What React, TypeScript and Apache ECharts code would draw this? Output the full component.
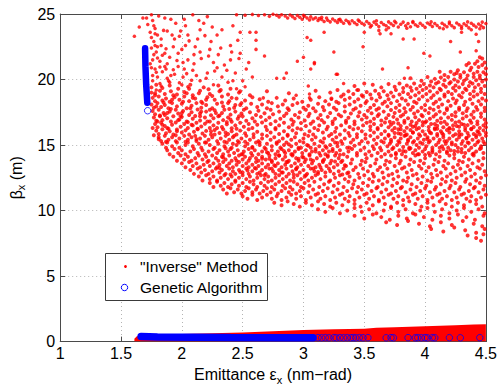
import React, { useEffect, useRef } from "react";
import * as echarts from "echarts";

const FONT = '"Liberation Sans", Arial, Helvetica, sans-serif';

const xTickValues = [1, 1.5, 2, 2.5, 3, 3.5, 4, 4.5];
const yTickValues = [0, 5, 10, 15, 20, 25];
const seriesNames = ['"Inverse" Method', "Genetic Algorithm"];

// "Inverse" method: thin band near the top edge (flat x,y pairs)
const inverseTopBand = [
  2.45,24.95, 2.52,24.9, 2.58,24.97, 2.63,24.88, 2.68,24.95, 2.72,24.82, 2.75,24.98, 2.78,24.9, 2.8,24.78, 2.82,24.95,
  2.85,24.85, 2.87,24.7, 2.89,24.92, 2.91,24.8, 2.93,24.65, 2.95,24.88, 2.97,24.75, 2.99,24.6, 3.01,24.82, 3.03,24.7,
  3.05,24.55, 3.06,24.78, 3.08,24.62, 3.1,24.72, 3.12,24.5, 3.13,24.66, 3.15,24.58, 3.17,24.42, 3.19,24.7, 3.2,24.52,
  3.22,24.4, 3.24,24.62, 3.26,24.48, 3.28,24.35, 3.29,24.56, 3.31,24.44, 3.33,24.3, 3.35,24.52, 3.37,24.4, 3.38,24.25,
  3.4,24.48, 3.42,24.34, 3.44,24.2, 3.46,24.45, 3.48,24.3, 3.5,24.18, 3.52,24.42, 3.54,24.28, 3.56,24.12, 3.58,24.38,
  3.6,24.22, 3.62,24.05, 3.64,24.35, 3.66,24.2, 3.68,24.1, 3.7,24.4, 3.72,24.26, 3.74,24.12, 3.76,24.33, 3.78,24.0,
  3.8,24.22, 3.82,24.38, 3.84,24.1, 3.86,24.28, 3.88,24.02, 3.9,24.35, 3.92,24.18, 3.94,24.06, 3.96,24.3, 3.98,24.14,
  4.0,23.98, 4.02,24.32, 4.04,24.2, 4.06,24.05, 4.08,24.28, 4.1,24.12, 4.12,23.95, 4.14,24.3, 4.16,24.16, 4.18,24.02,
  4.2,24.25, 4.22,24.1, 4.24,23.96, 4.26,24.32, 4.28,24.18, 4.3,24.04, 4.32,24.26, 4.34,24.12, 4.36,23.94, 4.38,24.3,
  4.4,24.15, 4.42,24.0, 4.44,24.24, 4.46,24.1, 4.48,23.96, 4.5,24.28, 3.0,24.9, 3.15,24.75, 3.3,24.6, 3.45,24.55,
  3.6,24.48, 3.75,24.45, 3.9,24.42, 4.05,24.4, 4.2,24.38, 4.35,24.4, 4.47,24.38, 3.55,24.0, 3.7,23.95, 3.85,23.92,
  4.15,23.88, 4.3,23.9, 4.45,23.88, 3.5,23.6, 3.62,23.75, 3.72,23.5, 4.3,23.6, 4.42,23.45, 4.38,23.8, 3.68,23.8,
];

// "Inverse" method: sparse points in the upper part
const inverseSparse = [
  1.61,23.3, 1.65,24.0, 1.68,24.7, 1.71,24.7, 1.72,24.2, 1.75,24.95, 1.76,24.5, 1.78,23.9, 1.74,23.6, 1.8,23.4,
  1.77,22.9, 1.83,22.6, 1.79,22.1, 1.86,22.0, 1.76,21.5, 1.82,21.4, 1.88,21.2, 1.78,20.8, 1.84,20.6, 1.8,20.2,
  1.88,20.1, 1.94,23.1, 1.99,23.7, 2.03,22.6, 2.09,24.95, 2.13,23.1, 2.18,24.3, 2.21,24.8, 2.15,22.1, 2.22,21.8,
  2.24,22.9, 2.05,21.5, 1.97,21.0, 2.09,20.7, 2.29,20.9, 2.4,21.5, 2.46,23.0, 2.48,23.6, 2.56,23.6, 1.97,22.0,
  1.91,24.6, 2.02,24.6, 1.9,19.8, 2.01,20.2, 2.15,19.9, 2.21,20.5, 2.33,20.2, 2.42,19.9, 2.53,20.8, 2.48,22.0,
  1.78,23.5, 1.86,24.7, 1.88,23.7, 1.83,23.1, 1.93,22.5, 2.05,23.4, 2.1,21.9, 1.8,21.65, 1.87,20.8, 1.94,20.4,
  2.1,21.2, 2.26,21.3, 2.32,22.4, 2.15,23.8, 2.29,23.4, 2.4,22.6, 2.42,24.1, 1.82,19.7, 2.05,19.45, 2.26,19.6,
  2.45,19.3, 2.52,19.45, 2.37,20.7, 2.02,20.8, 1.75,20.9, 1.76,19.9, 1.77,21.9, 1.75,22.4, 1.79,19.2,
  1.74,21.2, 1.75,23.2, 1.77,24.1, 1.79,20.55, 1.8,22.5, 1.81,24.85, 1.82,20.95, 1.84,21.85, 1.85,23.75, 1.87,22.35,
  1.89,19.9, 1.9,21.7, 1.92,23.4, 1.93,20.75, 1.95,24.3, 1.96,21.45, 1.98,19.75, 2.0,22.3, 2.01,21.3, 2.03,24.1,
  2.04,20.45, 2.06,22.95, 2.08,19.95, 2.11,22.5, 2.12,20.3, 2.14,24.5, 2.16,21.6, 2.19,23.35, 2.2,20.1, 2.23,22.3,
  2.25,24.0, 2.27,20.65, 2.3,21.9, 2.33,23.8, 2.35,21.1, 2.38,19.8, 2.41,22.1, 2.44,20.5, 2.47,21.6, 2.5,19.9,
  2.55,21.3, 2.58,20.2, 1.76,20.3, 1.78,22.6, 1.83,19.5, 1.86,21.0, 1.91,20.3, 2.0,19.6, 1.98,23.3,
  2.61,23.0, 2.61,22.3, 2.68,21.8, 2.95,21.4, 3.0,21.7, 3.03,23.2, 3.06,23.0, 3.09,21.2, 3.06,20.8, 3.25,22.1,
  3.17,23.6, 3.27,20.4, 3.33,19.7, 3.49,22.5, 3.65,20.8, 3.86,20.9, 3.83,20.1, 3.99,22.0, 4.04,21.8, 4.21,22.9,
  4.29,22.1, 4.42,22.2, 4.44,22.9, 3.82,23.1, 3.91,23.1, 3.63,23.5, 2.86,20.5, 2.84,20.1, 2.78,20.1, 2.94,18.8,
  3.05,18.6, 3.09,21.3, 3.04,19.5, 3.05,18.9, 3.44,19.2, 2.67,18.6, 3.23,18.5, 2.61,23.6, 3.28,20.4,
];

// "Inverse" method: main cloud, upper rows (beta 16 .. 21.5)
const inverseCloudUpper = [
  4.43,21.4, 4.47,21.6, 4.49,21.3, 4.45,21.7,
  4.34,21.1, 4.38,20.9, 4.41,21.2, 4.44,20.95, 4.47,21.1, 4.5,20.85, 4.36,21.25,
  4.12,20.6, 4.16,20.35, 4.21,20.6, 4.24,20.4, 4.26,20.5, 4.27,20.7, 4.29,20.35, 4.32,20.55, 4.35,20.3, 4.37,20.7,
  4.4,20.45, 4.43,20.6, 4.45,20.3, 4.48,20.55, 4.5,20.4,
  3.88,20.1, 3.97,19.9, 4.02,20.2, 4.05,19.85, 4.08,20.05, 4.11,19.8, 4.13,20.15, 4.16,19.95, 4.19,20.2, 4.21,19.8,
  4.24,20.0, 4.27,19.85, 4.29,20.15, 4.32,19.9, 4.34,20.05, 4.37,19.8, 4.4,20.2, 4.42,19.95, 4.45,20.1, 4.47,19.85, 4.5,20.0,
  3.42,19.5, 3.5,19.7, 3.57,19.6, 3.64,19.4, 3.7,19.65, 3.75,19.45, 3.79,19.7, 3.82,19.35, 3.85,19.55, 3.88,19.4,
  3.91,19.7, 3.93,19.3, 3.96,19.5, 3.99,19.65, 4.01,19.35, 4.04,19.55, 4.07,19.4, 4.09,19.7, 4.12,19.3, 4.15,19.6,
  4.17,19.45, 4.2,19.7, 4.23,19.35, 4.25,19.55, 4.28,19.4, 4.31,19.65, 4.33,19.3, 4.36,19.5, 4.39,19.7, 4.41,19.4,
  4.44,19.6, 4.46,19.3, 4.49,19.5,
  1.75,19.4, 1.79,19.6, 1.84,19.35, 1.9,19.55, 1.97,19.3, 2.07,19.6, 2.18,19.4, 2.3,19.55, 2.4,19.3,
  1.75,19.0, 1.78,18.8, 1.82,19.15, 1.86,18.9, 1.91,19.1, 1.96,18.85, 2.02,19.05, 2.09,18.8, 2.15,19.15, 2.23,18.9,
  2.31,19.1, 2.38,18.85, 2.47,19.0, 2.56,18.8,
  2.7,19.1, 2.88,18.95, 3.1,19.15, 3.22,19.0, 3.28,19.2, 3.33,18.85, 3.37,19.1, 3.41,18.9, 3.45,19.2, 3.48,18.8,
  3.52,19.05, 3.55,18.85, 3.59,19.15, 3.62,18.9, 3.66,19.1, 3.69,18.8, 3.72,19.0, 3.76,19.2, 3.79,18.85, 3.82,19.05,
  3.86,18.9, 3.89,19.15, 3.92,18.8, 3.95,19.0, 3.98,19.2, 4.01,18.9, 4.04,19.1, 4.07,18.8, 4.1,19.0, 4.13,19.2,
  4.16,18.85, 4.19,19.05, 4.22,18.9, 4.25,19.15, 4.28,18.8, 4.31,19.0, 4.34,19.2, 4.37,18.9, 4.4,19.1, 4.43,18.85,
  4.46,19.05, 4.49,18.9,
  1.76,18.6, 1.78,18.35, 1.81,18.7, 1.84,18.4, 1.87,18.55, 1.9,18.3, 1.94,18.65, 1.98,18.45, 2.02,18.7, 2.06,18.35,
  2.11,18.55, 2.16,18.3, 2.21,18.65, 2.27,18.45, 2.33,18.7, 2.39,18.35, 2.45,18.55, 2.52,18.4, 2.58,18.65,
  2.64,18.5, 2.71,18.3, 2.78,18.6, 2.85,18.4, 2.92,18.55, 2.99,18.3, 3.06,18.45, 3.13,18.65, 3.18,18.35,
  3.23,18.55, 3.27,18.3, 3.31,18.7, 3.34,18.45, 3.38,18.6, 3.42,18.3, 3.45,18.5, 3.49,18.7, 3.52,18.35, 3.56,18.55,
  3.6,18.4, 3.63,18.65, 3.67,18.3, 3.7,18.5, 3.74,18.7, 3.77,18.35, 3.81,18.55, 3.84,18.4, 3.88,18.65, 3.91,18.3,
  3.95,18.5, 3.98,18.7, 4.02,18.4, 4.05,18.6, 4.09,18.3, 4.12,18.5, 4.16,18.7, 4.19,18.35, 4.23,18.55, 4.26,18.4,
  4.3,18.65, 4.33,18.3, 4.37,18.5, 4.4,18.7, 4.44,18.35, 4.47,18.55, 4.5,18.4,
  1.75,18.1, 1.77,17.85, 1.8,18.2, 1.83,17.9, 1.86,18.05, 1.89,17.8, 1.92,18.2, 1.96,17.95, 2.0,18.15, 2.04,17.8,
  2.08,18.0, 2.12,18.2, 2.16,17.85, 2.2,18.05, 2.25,17.8, 2.29,18.15, 2.34,17.95, 2.38,18.2, 2.43,17.85, 2.48,18.05,
  2.53,17.8, 2.57,18.15, 2.62,17.9, 2.66,18.1, 2.7,17.8, 2.74,18.2, 2.79,17.95, 2.83,18.1, 2.87,17.8, 2.91,18.05,
  2.95,18.2, 3.0,17.85, 3.04,18.0, 3.08,17.8, 3.12,18.15, 3.16,17.9, 3.21,18.1, 3.25,17.85, 3.29,18.2, 3.34,17.95,
  3.38,18.1, 3.43,17.8, 3.47,18.0, 3.51,18.2, 3.55,17.85, 3.58,18.05, 3.62,17.8, 3.65,18.15, 3.69,17.95, 3.72,18.2,
  3.76,17.85, 3.79,18.05, 3.83,17.8, 3.86,18.1, 3.9,17.9, 3.93,18.2, 3.97,17.85, 4.0,18.05, 4.04,17.8, 4.07,18.15,
  4.11,17.9, 4.14,18.1, 4.18,17.8, 4.21,18.0, 4.25,18.2, 4.28,17.85, 4.32,18.05, 4.35,17.8, 4.39,18.15, 4.42,17.9,
  4.46,18.1, 4.49,17.85,
  1.76,17.6, 1.78,17.35, 1.81,17.7, 1.85,17.45, 1.86,17.3, 1.9,17.55, 1.95,17.7, 1.97,17.4, 2.01,17.6, 2.06,17.3,
  2.08,17.5, 2.13,17.72, 2.15,17.4, 2.2,17.55, 2.24,17.28, 2.27,17.65, 2.33,17.45, 2.35,17.7, 2.4,17.32, 2.44,17.55,
  2.49,17.4, 2.51,17.7, 2.56,17.5, 2.61,17.3, 2.63,17.62, 2.68,17.42, 2.73,17.7, 2.75,17.35, 2.8,17.55, 2.86,17.4,
  2.88,17.68, 2.93,17.3, 2.97,17.5, 3.02,17.7, 3.05,17.38, 3.1,17.58, 3.14,17.3, 3.17,17.65, 3.22,17.45, 3.27,17.7,
  3.29,17.32, 3.34,17.55, 3.39,17.4, 3.41,17.7, 3.46,17.5, 3.5,17.3, 3.53,17.62, 3.56,17.42, 3.6,17.7, 3.62,17.35,
  3.66,17.55, 3.7,17.3, 3.72,17.68, 3.75,17.45, 3.79,17.6, 3.82,17.32, 3.84,17.52, 3.88,17.7, 3.91,17.4, 3.94,17.58,
  3.97,17.3, 4.0,17.65, 4.03,17.45, 4.07,17.7, 4.09,17.35, 4.12,17.55, 4.16,17.4, 4.18,17.68, 4.22,17.3, 4.25,17.5,
  4.28,17.7, 4.31,17.42, 4.34,17.6, 4.38,17.32, 4.4,17.55, 4.43,17.7, 4.46,17.4, 4.49,17.6,
  1.77,17.1, 1.79,16.85, 1.82,17.2, 1.84,16.9, 1.88,17.05, 1.91,16.8, 1.93,17.2, 1.98,16.95, 2.0,17.15, 2.04,16.8,
  2.09,17.0, 2.11,17.22, 2.15,16.88, 2.19,17.1, 2.23,16.8, 2.26,17.05, 2.3,17.2, 2.34,16.9, 2.38,17.1, 2.41,16.78,
  2.46,17.0, 2.5,17.2, 2.53,16.85, 2.58,17.05, 2.6,16.8, 2.65,17.15, 2.69,16.9, 2.72,17.1, 2.77,16.82, 2.81,17.0,
  2.84,17.22, 2.9,16.95, 2.92,16.78, 2.96,17.1, 3.01,16.88, 3.04,17.2, 3.08,16.8, 3.12,17.05, 3.15,16.9, 3.2,17.15,
  3.24,16.8, 3.26,17.0, 3.31,17.2, 3.35,16.85, 3.37,17.08, 3.42,16.8, 3.45,17.2, 3.48,16.95, 3.52,17.1, 3.55,16.8,
  3.58,17.0, 3.61,17.22, 3.64,16.88, 3.68,17.05, 3.71,16.78, 3.74,17.15, 3.77,16.95, 3.8,17.2, 3.83,16.85, 3.86,17.05,
  3.89,16.8, 3.92,17.12, 3.95,16.9, 3.98,17.2, 4.01,16.82, 4.04,17.0, 4.07,17.18, 4.1,16.85, 4.13,17.05, 4.16,16.78,
  4.19,17.1, 4.22,16.92, 4.25,17.2, 4.28,16.8, 4.31,17.02, 4.34,17.2, 4.37,16.88, 4.4,17.08, 4.43,16.8, 4.46,17.15, 4.49,16.95,
  1.78,16.6, 1.8,16.35, 1.83,16.7, 1.86,16.45, 1.88,16.3, 1.92,16.55, 1.95,16.72, 1.99,16.4, 2.02,16.6, 2.05,16.3,
  2.09,16.5, 2.12,16.7, 2.16,16.42, 2.19,16.62, 2.23,16.3, 2.26,16.5, 2.3,16.7, 2.33,16.38, 2.37,16.58, 2.41,16.28,
  2.44,16.5, 2.48,16.7, 2.51,16.4, 2.55,16.6, 2.58,16.3, 2.62,16.55, 2.66,16.72, 2.69,16.4, 2.73,16.6, 2.77,16.3,
  2.8,16.5, 2.84,16.7, 2.88,16.35, 2.91,16.55, 2.95,16.28, 2.98,16.68, 3.02,16.45, 3.06,16.62, 3.09,16.3, 3.13,16.5,
  3.17,16.72, 3.2,16.4, 3.24,16.6, 3.27,16.3, 3.31,16.5, 3.35,16.7, 3.38,16.38, 3.42,16.58, 3.45,16.28, 3.49,16.5,
  3.52,16.7, 3.55,16.42, 3.58,16.6, 3.61,16.3, 3.64,16.52, 3.67,16.72, 3.7,16.35, 3.72,16.55, 3.75,16.3, 3.78,16.65,
  3.8,16.45, 3.83,16.7, 3.85,16.32, 3.88,16.55, 3.9,16.4, 3.93,16.68, 3.95,16.3, 3.98,16.5, 4.0,16.72, 4.03,16.38,
  4.05,16.6, 4.08,16.28, 4.1,16.48, 4.13,16.7, 4.15,16.35, 4.18,16.58, 4.2,16.3, 4.23,16.5, 4.25,16.72, 4.28,16.4,
  4.3,16.6, 4.33,16.3, 4.35,16.52, 4.38,16.7, 4.4,16.38, 4.43,16.58, 4.45,16.3, 4.48,16.5, 4.5,16.68,
  1.79,16.1, 1.81,15.85, 1.84,16.2, 1.87,15.9, 1.9,16.05, 1.93,15.8, 1.96,16.18, 2.0,15.95, 2.03,16.12, 2.06,15.8,
  2.1,16.02, 2.13,16.2, 2.17,15.88, 2.2,16.08, 2.24,15.8, 2.27,16.15, 2.31,15.92, 2.34,16.2, 2.38,15.85, 2.41,16.05,
  2.45,15.8, 2.48,16.1, 2.52,15.9, 2.55,16.2, 2.59,15.82, 2.62,16.02, 2.66,15.8, 2.7,16.15, 2.73,15.95, 2.77,16.2,
  2.8,15.85, 2.84,16.05, 2.87,15.78, 2.91,16.12, 2.94,15.9, 2.98,16.2, 3.01,15.82, 3.05,16.05, 3.08,15.8, 3.12,16.15,
  3.16,15.95, 3.19,16.2, 3.23,15.85, 3.26,16.02, 3.3,15.8, 3.34,16.12, 3.37,15.92, 3.41,16.2, 3.44,15.82, 3.48,16.05,
  3.51,15.8, 3.55,16.15, 3.58,15.95, 3.61,16.2, 3.64,15.85, 3.67,16.05, 3.7,15.78, 3.73,16.12, 3.75,15.92, 3.78,16.2,
  3.8,15.85, 3.83,16.05, 3.85,15.8, 3.88,16.15, 3.9,15.95, 3.93,16.2, 3.95,15.82, 3.98,16.05, 4.0,15.8, 4.03,16.12,
  4.05,15.9, 4.08,16.2, 4.1,15.85, 4.13,16.05, 4.15,15.78, 4.18,16.15, 4.2,15.95, 4.23,16.2, 4.25,15.82, 4.28,16.05,
  4.3,15.8, 4.33,16.12, 4.35,15.92, 4.38,16.2, 4.4,15.85, 4.43,16.05, 4.45,15.8, 4.48,16.12, 4.5,15.92,
];

// "Inverse" method: extra points on the left arm of the cloud
const inverseCloudLeftArm = [
  1.77,15.75, 1.8,16.8, 1.82,17.25, 1.85,18.25, 1.87,15.25, 1.89,16.25, 1.91,17.75, 1.93,18.8, 1.95,15.75, 1.97,16.9,
  1.99,17.2, 2.01,18.3, 2.03,15.25, 2.05,16.75, 2.07,17.8, 2.09,18.6, 2.11,15.7, 2.13,16.25, 2.15,17.2, 2.17,18.2,
  2.19,15.2, 2.21,16.8, 2.23,17.7, 2.25,18.75, 2.27,15.8, 2.29,16.3, 2.31,17.25, 2.33,18.25, 2.35,15.25, 2.37,16.75,
  2.39,17.75, 2.41,18.6, 2.43,15.7, 2.45,16.25, 2.47,17.2, 2.49,18.2, 1.78,18.95, 1.81,15.45, 1.84,16.55, 1.88,17.45,
  1.92,18.45, 1.96,16.05, 2.0,17.45, 2.04,18.95, 2.08,16.55, 2.12,15.45, 2.16,17.55, 2.2,18.45, 2.24,16.05, 2.28,17.45,
  2.32,19.2, 2.36,15.95, 2.4,16.95, 2.44,18.05, 2.48,19.1, 1.76,16.3, 1.79,17.95, 2.06,19.3, 2.14,18.95, 2.22,19.25,
];

// "Inverse" method: main cloud, middle rows (beta 12.8 .. 15.7)
const inverseCloudMiddle = [
  1.81,15.6, 1.83,15.3, 1.86,15.7, 1.89,15.4, 1.92,15.6, 1.95,15.3, 1.98,15.5, 2.02,15.7, 2.05,15.4, 2.08,15.6,
  2.12,15.3, 2.15,15.5, 2.19,15.7, 2.22,15.4, 2.25,15.6, 2.29,15.3, 2.32,15.5, 2.36,15.7, 2.39,15.4, 2.42,15.6,
  2.46,15.3, 2.49,15.5, 2.53,15.7, 2.56,15.4, 2.59,15.6, 2.63,15.3, 2.66,15.5, 2.7,15.7, 2.73,15.4, 2.76,15.6,
  2.8,15.3, 2.83,15.5, 2.87,15.7, 2.9,15.4, 2.93,15.6, 2.97,15.3, 3.0,15.5, 3.04,15.7, 3.07,15.4, 3.1,15.6,
  3.14,15.3, 3.17,15.5, 3.21,15.7, 3.24,15.4, 3.27,15.6, 3.31,15.3, 3.34,15.5, 3.38,15.7, 3.41,15.4, 3.44,15.6,
  3.48,15.3, 3.51,15.5, 3.55,15.7, 3.58,15.4, 3.61,15.6, 3.64,15.3, 3.67,15.5, 3.7,15.7, 3.72,15.4, 3.75,15.6,
  3.78,15.3, 3.8,15.5, 3.83,15.7, 3.86,15.4, 3.88,15.6, 3.91,15.3, 3.94,15.5, 3.96,15.7, 3.99,15.4, 4.02,15.6,
  4.04,15.3, 4.07,15.5, 4.1,15.7, 4.12,15.4, 4.15,15.6, 4.18,15.3, 4.2,15.5, 4.23,15.7, 4.26,15.4, 4.28,15.6,
  4.31,15.3, 4.34,15.5, 4.36,15.7, 4.39,15.4, 4.42,15.6, 4.44,15.3, 4.47,15.5, 4.5,15.7,
  1.84,15.1, 1.87,14.8, 1.88,15.2, 1.92,14.9, 1.96,15.2, 1.98,14.8, 2.03,15.0, 2.05,15.2, 2.09,14.9, 2.14,15.1,
  2.16,14.8, 2.2,15.2, 2.23,15.0, 2.27,14.8, 2.3,15.1, 2.35,14.9, 2.37,15.2, 2.41,14.8, 2.45,15.0, 2.47,15.2,
  2.52,14.9, 2.54,15.1, 2.58,14.8, 2.61,15.2, 2.64,15.0, 2.68,14.8, 2.7,15.1, 2.74,14.9, 2.78,15.2, 2.81,14.8,
  2.84,15.0, 2.86,15.2, 2.9,14.9, 2.94,15.1, 2.96,14.8, 3.0,15.2, 3.03,15.0, 3.06,14.8, 3.09,15.1, 3.13,14.9,
  3.16,15.2, 3.19,14.8, 3.22,15.0, 3.26,15.2, 3.28,14.9, 3.32,15.1, 3.36,14.8, 3.39,15.2, 3.42,14.95, 3.46,15.1,
  3.5,14.8, 3.53,15.2, 3.57,14.9, 3.6,15.1, 3.63,14.8, 3.66,15.2, 3.69,14.9, 3.71,15.1, 3.74,14.8, 3.77,15.0,
  3.79,15.2, 3.82,14.85, 3.85,15.1, 3.87,14.8, 3.9,15.2, 3.93,15.0, 3.95,14.8, 3.98,15.1, 4.01,14.9, 4.03,15.2,
  4.06,14.8, 4.09,15.0, 4.11,15.2, 4.14,14.9, 4.17,15.1, 4.19,14.8, 4.22,15.2, 4.25,15.0, 4.27,14.8, 4.3,15.1,
  4.33,14.9, 4.35,15.2, 4.38,14.8, 4.41,15.0, 4.43,15.2, 4.46,14.9, 4.49,15.1,
  1.88,14.6, 1.9,14.3, 1.94,14.7, 1.97,14.4, 2.0,14.6, 2.03,14.3, 2.07,14.5, 2.1,14.7, 2.13,14.4, 2.17,14.6,
  2.19,14.3, 2.22,14.5, 2.26,14.7, 2.29,14.4, 2.31,14.6, 2.34,14.3, 2.38,14.5, 2.4,14.7, 2.43,14.4, 2.46,14.6,
  2.49,14.3, 2.51,14.5, 2.55,14.7, 2.57,14.4, 2.6,14.6, 2.63,14.3, 2.66,14.5, 2.69,14.7, 2.71,14.4, 2.74,14.6,
  2.77,14.3, 2.79,14.5, 2.82,14.7, 2.85,14.4, 2.88,14.6, 2.91,14.3, 2.93,14.5, 2.96,14.7, 2.99,14.4, 3.02,14.6,
  3.05,14.3, 3.07,14.5, 3.1,14.7, 3.13,14.4, 3.16,14.6, 3.18,14.3, 3.21,14.5, 3.24,14.7, 3.27,14.4, 3.3,14.6,
  3.33,14.3, 3.37,14.5, 3.4,14.7, 3.44,14.4, 3.47,14.6, 3.51,14.3, 3.54,14.5, 3.58,14.7, 3.61,14.4, 3.64,14.6,
  3.67,14.3, 3.7,14.5, 3.73,14.7, 3.76,14.4, 3.79,14.6, 3.81,14.3, 3.84,14.5, 3.87,14.7, 3.9,14.4, 3.92,14.6,
  3.95,14.3, 3.98,14.5, 4.0,14.7, 4.03,14.4, 4.06,14.6, 4.09,14.3, 4.12,14.5, 4.15,14.7, 4.18,14.4, 4.21,14.6,
  4.24,14.3, 4.27,14.5, 4.3,14.7, 4.33,14.4, 4.36,14.6, 4.39,14.3, 4.42,14.5, 4.45,14.7, 4.48,14.4,
  1.93,14.1, 1.96,13.8, 1.99,14.2, 2.02,13.9, 2.05,14.1, 2.08,13.8, 2.11,14.0, 2.14,14.2, 2.17,13.9, 2.2,14.1,
  2.22,13.8, 2.25,14.2, 2.28,14.0, 2.3,13.8, 2.33,14.1, 2.36,13.9, 2.39,14.2, 2.41,13.8, 2.44,14.0, 2.47,14.2,
  2.5,13.9, 2.52,14.1, 2.55,13.8, 2.58,14.2, 2.61,14.0, 2.63,13.8, 2.66,14.1, 2.69,13.9, 2.72,14.2, 2.74,13.8,
  2.77,14.0, 2.8,14.2, 2.83,13.9, 2.85,14.1, 2.88,13.8, 2.91,14.2, 2.94,14.0, 2.96,13.8, 2.99,14.1, 3.02,13.9,
  3.05,14.2, 3.08,13.8, 3.11,14.0, 3.14,14.2, 3.17,13.9, 3.2,14.1, 3.23,13.8, 3.26,14.2, 3.29,14.0, 3.32,13.8,
  3.36,14.1, 3.4,13.9, 3.44,14.2, 3.48,13.8, 3.52,14.0, 3.56,14.2, 3.6,13.9, 3.64,14.1, 3.68,13.8, 3.72,14.2,
  3.76,14.0, 3.8,13.8, 3.84,14.1, 3.88,13.9, 3.92,14.2, 3.96,13.8, 4.0,14.0, 4.04,14.2, 4.08,13.9, 4.12,14.1,
  4.16,13.8, 4.2,14.2, 4.24,14.0, 4.28,13.8, 4.32,14.1, 4.36,13.9, 4.4,14.2, 4.44,13.8, 4.48,14.0,
  2.0,13.6, 2.03,13.3, 2.06,13.7, 2.09,13.4, 2.12,13.6, 2.15,13.3, 2.18,13.5, 2.21,13.7, 2.23,13.4, 2.26,13.6,
  2.29,13.3, 2.31,13.5, 2.34,13.7, 2.37,13.4, 2.39,13.6, 2.42,13.3, 2.45,13.5, 2.47,13.7, 2.5,13.4, 2.53,13.6,
  2.55,13.3, 2.58,13.5, 2.61,13.7, 2.63,13.4, 2.66,13.6, 2.69,13.3, 2.71,13.5, 2.74,13.7, 2.77,13.4, 2.79,13.6,
  2.82,13.3, 2.85,13.5, 2.87,13.7, 2.9,13.4, 2.93,13.6, 2.95,13.3, 2.98,13.5, 3.01,13.7, 3.04,13.4, 3.07,13.6,
  3.1,13.3, 3.13,13.5, 3.16,13.7, 3.19,13.4, 3.22,13.6, 3.25,13.3, 3.28,13.5, 3.31,13.7, 3.35,13.4, 3.39,13.6,
  3.43,13.3, 3.47,13.5, 3.51,13.7, 3.55,13.4, 3.59,13.6, 3.63,13.3, 3.67,13.5, 3.71,13.7, 3.75,13.4, 3.79,13.6,
  3.83,13.3, 3.87,13.5, 3.91,13.7, 3.95,13.4, 3.99,13.6, 4.03,13.3, 4.07,13.5, 4.11,13.7, 4.15,13.4, 4.19,13.6,
  4.23,13.3, 4.27,13.5, 4.31,13.7, 4.35,13.4, 4.39,13.6, 4.43,13.3, 4.47,13.5,
  2.07,13.1, 2.1,12.8, 2.13,13.2, 2.16,12.9, 2.19,13.1, 2.22,12.8, 2.25,13.0, 2.28,13.2, 2.31,12.9, 2.33,13.1,
  2.36,12.8, 2.39,13.2, 2.42,13.0, 2.44,12.8, 2.47,13.1, 2.5,12.9, 2.53,13.2, 2.55,12.8, 2.58,13.0, 2.61,13.2,
  2.64,12.9, 2.66,13.1, 2.69,12.8, 2.72,13.2, 2.75,13.0, 2.77,12.8, 2.8,13.1, 2.83,12.9, 2.86,13.2, 2.88,12.8,
  2.91,13.0, 2.94,13.2, 2.97,12.9, 3.0,13.1, 3.03,12.8, 3.06,13.2, 3.09,13.0, 3.12,12.8, 3.15,13.1, 3.18,12.9,
  3.21,13.2, 3.25,12.8, 3.29,13.0, 3.33,13.2, 3.37,12.9, 3.41,13.1, 3.45,12.8, 3.49,13.2, 3.53,13.0, 3.57,12.8,
  3.61,13.1, 3.65,12.9, 3.69,13.2, 3.73,12.8, 3.77,13.0, 3.81,13.2, 3.85,12.9, 3.89,13.1, 3.93,12.8, 3.97,13.2,
  4.01,13.0, 4.05,12.8, 4.09,13.1, 4.13,12.9, 4.17,13.2, 4.21,12.8, 4.25,13.0, 4.29,13.2, 4.33,12.9, 4.37,13.1,
  4.41,12.8, 4.45,13.2, 4.49,13.0,
];

// "Inverse" method: extra points in the densest parts of the cloud
const inverseCloudCore = [
  2.31,13.25, 2.36,14.75, 2.4,12.75, 2.45,13.8, 2.5,14.3, 2.54,13.05, 2.58,14.85, 2.62,12.8, 2.66,13.95, 2.7,14.45,
  2.74,13.2, 2.78,15.1, 2.82,12.9, 2.86,13.7, 2.9,14.3, 2.94,13.15, 2.98,14.8, 3.02,12.7, 3.06,13.9, 3.1,14.5,
  3.14,13.3, 3.18,14.9, 3.22,13.0, 3.26,13.75, 3.3,14.25, 3.34,13.45, 3.38,14.8, 2.34,14.05, 2.42,15.1, 2.48,12.95,
  2.56,14.0, 2.64,15.2, 2.72,13.95, 2.8,14.2, 2.88,15.05, 2.96,13.95, 3.04,14.95, 3.12,12.95, 3.2,14.2, 3.28,15.15,
  3.36,12.85, 2.52,15.25, 2.6,13.25, 2.68,12.7, 2.76,13.45, 2.84,14.55, 2.92,12.75, 3.0,14.05, 3.08,13.2, 3.16,13.8,
  3.24,14.55, 3.32,12.75,
  3.72,15.25, 3.76,14.3, 3.8,16.2, 3.84,15.75, 3.88,14.75, 3.92,16.45, 3.96,15.2, 4.0,14.25, 4.04,15.95, 4.08,16.6,
  4.12,14.8, 4.16,15.3, 4.2,16.25, 4.24,14.55, 4.28,15.8, 4.32,16.55, 4.36,15.15, 4.4,14.35, 4.44,16.0, 4.48,15.25,
  3.74,16.7, 3.82,14.55, 3.9,15.95, 3.98,16.75, 4.06,14.45, 4.14,15.9, 4.22,15.05, 4.3,14.45, 4.38,16.25, 4.46,14.75,
  3.86,15.3, 3.94,14.3, 4.02,15.45, 4.1,16.25, 4.18,14.5, 4.26,16.45, 4.34,15.55, 4.42,15.75, 4.5,16.35, 3.78,15.9,
];

// "Inverse" method: main cloud, lower rows (beta 7.7 .. 12.7)
const inverseCloudLower = [
  2.14,12.6, 2.17,12.3, 2.2,12.7, 2.23,12.4, 2.26,12.6, 2.29,12.3, 2.32,12.5, 2.35,12.7, 2.38,12.4, 2.41,12.6,
  2.44,12.3, 2.47,12.5, 2.5,12.7, 2.53,12.4, 2.56,12.6, 2.59,12.3, 2.62,12.5, 2.65,12.7, 2.68,12.4, 2.71,12.6,
  2.74,12.3, 2.77,12.5, 2.8,12.7, 2.83,12.4, 2.86,12.6, 2.89,12.3, 2.92,12.5, 2.95,12.7, 2.98,12.4, 3.01,12.6,
  3.04,12.3, 3.07,12.5, 3.1,12.7, 3.14,12.4, 3.18,12.6, 3.22,12.3, 3.26,12.5, 3.3,12.7, 3.34,12.4, 3.38,12.6,
  3.42,12.3, 3.46,12.5, 3.5,12.7, 3.54,12.4, 3.58,12.6, 3.62,12.3, 3.66,12.5, 3.7,12.7, 3.74,12.4, 3.78,12.6,
  3.82,12.3, 3.86,12.5, 3.9,12.7, 3.94,12.4, 3.98,12.6, 4.02,12.3, 4.06,12.5, 4.1,12.7, 4.14,12.4, 4.18,12.6,
  4.22,12.3, 4.26,12.5, 4.3,12.7, 4.34,12.4, 4.38,12.6, 4.42,12.3, 4.46,12.5, 4.5,12.7,
  2.23,12.1, 2.26,11.8, 2.29,12.2, 2.32,11.9, 2.35,12.1, 2.38,11.8, 2.41,12.0, 2.44,12.2, 2.47,11.9, 2.5,12.1,
  2.53,11.8, 2.56,12.2, 2.59,12.0, 2.62,11.8, 2.65,12.1, 2.68,11.9, 2.71,12.2, 2.74,11.8, 2.77,12.0, 2.8,12.2,
  2.83,11.9, 2.86,12.1, 2.89,11.8, 2.92,12.2, 2.95,12.0, 2.98,11.8, 3.01,12.1, 3.05,11.9, 3.09,12.2, 3.13,11.8,
  3.17,12.0, 3.21,12.2, 3.25,11.9, 3.29,12.1, 3.33,11.8, 3.37,12.2, 3.41,12.0, 3.45,11.8, 3.49,12.1, 3.53,11.9,
  3.57,12.2, 3.61,11.8, 3.65,12.0, 3.69,12.2, 3.73,11.9, 3.77,12.1, 3.81,11.8, 3.85,12.2, 3.89,12.0, 3.93,11.8,
  3.97,12.1, 4.01,11.9, 4.05,12.2, 4.09,11.8, 4.13,12.0, 4.17,12.2, 4.21,11.9, 4.25,12.1, 4.29,11.8, 4.33,12.2,
  4.37,12.0, 4.41,11.8, 4.45,12.1, 4.49,11.9,
  2.34,11.6, 2.37,11.3, 2.4,11.7, 2.43,11.4, 2.46,11.6, 2.49,11.3, 2.52,11.5, 2.55,11.7, 2.58,11.4, 2.61,11.6,
  2.64,11.3, 2.67,11.5, 2.7,11.7, 2.73,11.4, 2.76,11.6, 2.79,11.3, 2.82,11.5, 2.85,11.7, 2.88,11.4, 2.91,11.6,
  2.94,11.3, 2.97,11.5, 3.0,11.7, 3.04,11.4, 3.08,11.6, 3.12,11.3, 3.16,11.5, 3.2,11.7, 3.24,11.4, 3.28,11.6,
  3.32,11.3, 3.36,11.5, 3.4,11.7, 3.44,11.4, 3.48,11.6, 3.52,11.3, 3.56,11.5, 3.6,11.7, 3.64,11.4, 3.68,11.6,
  3.72,11.3, 3.76,11.5, 3.8,11.7, 3.84,11.4, 3.88,11.6, 3.92,11.3, 3.96,11.5, 4.0,11.7, 4.04,11.4, 4.08,11.6,
  4.12,11.3, 4.16,11.5, 4.2,11.7, 4.24,11.4, 4.28,11.6, 4.32,11.3, 4.36,11.5, 4.4,11.7, 4.44,11.4, 4.48,11.6,
  2.5,11.1, 2.54,10.9, 2.58,11.2, 2.62,10.8, 2.66,11.0, 2.7,11.2, 2.74,10.9, 2.78,11.1, 2.82,10.8, 2.86,11.0,
  2.9,11.2, 2.94,10.9, 2.98,11.1, 3.02,10.8, 3.06,11.0, 3.1,11.2, 3.14,10.9, 3.18,11.1, 3.22,10.8, 3.26,11.0,
  3.3,11.2, 3.34,10.9, 3.38,11.1, 3.42,10.8, 3.46,11.0, 3.5,11.2, 3.54,10.9, 3.58,11.1, 3.62,10.8, 3.66,11.0,
  3.7,11.2, 3.74,10.9, 3.78,11.1, 3.82,10.8, 3.86,11.0, 3.9,11.2, 3.94,10.9, 3.98,11.1, 4.02,10.8, 4.06,11.0,
  4.1,11.2, 4.14,10.9, 4.18,11.1, 4.22,10.8, 4.26,11.0, 4.3,11.2, 4.34,10.9, 4.38,11.1, 4.42,10.8, 4.46,11.0, 4.5,11.2,
  2.76,10.6, 2.82,10.4, 2.87,10.7, 2.92,10.5, 2.97,10.3, 3.02,10.6, 3.07,10.4, 3.12,10.7, 3.17,10.5, 3.22,10.3,
  3.27,10.6, 3.32,10.4, 3.37,10.7, 3.42,10.5, 3.47,10.3, 3.52,10.6, 3.57,10.4, 3.62,10.7, 3.67,10.5, 3.72,10.3,
  3.77,10.6, 3.82,10.4, 3.87,10.7, 3.92,10.5, 3.97,10.3, 4.02,10.6, 4.07,10.4, 4.12,10.7, 4.17,10.5, 4.22,10.3,
  4.27,10.6, 4.32,10.4, 4.37,10.7, 4.42,10.5, 4.47,10.3,
  3.12,10.1, 3.18,9.9, 3.24,10.2, 3.3,9.8, 3.36,10.0, 3.42,10.2, 3.48,9.9, 3.54,10.1, 3.6,9.8, 3.66,10.0,
  3.72,10.2, 3.78,9.9, 3.84,10.1, 3.9,9.8, 3.96,10.0, 4.02,10.2, 4.08,9.9, 4.14,10.1, 4.2,9.8, 4.26,10.0,
  4.32,10.2, 4.38,9.9, 4.44,10.1, 4.49,9.8,
  3.42,9.6, 3.5,9.4, 3.57,9.7, 3.64,9.5, 3.71,9.3, 3.78,9.6, 3.85,9.4, 3.92,9.7, 3.99,9.5, 4.06,9.3,
  4.13,9.6, 4.2,9.4, 4.27,9.7, 4.34,9.5, 4.41,9.3, 4.48,9.6,
  3.68,9.1, 3.77,8.9, 3.86,9.2, 3.95,9.0, 4.04,8.8, 4.13,9.1, 4.22,8.9, 4.31,9.2, 4.4,9.0, 4.47,8.8,
  4.05,8.6, 4.15,8.4, 4.24,8.7, 4.33,8.5, 4.42,8.3, 4.49,8.6,
  4.35,8.1, 4.42,7.9, 4.48,8.2, 4.46,7.7,
];

// "Inverse" method: upper edge of the solid strip just above beta = 0
const inverseStripTop = [
  [1.61, 0.22], [1.63, 0.4], [1.75, 0.48], [2.0, 0.58], [2.25, 0.64], [2.5, 0.7], [2.75, 0.79],
  [3.0, 0.88], [3.25, 0.94], [3.5, 0.99], [3.6, 1.05], [3.75, 1.1], [4.0, 1.17], [4.25, 1.24], [4.4, 1.3], [4.5, 1.33],
];

// Genetic algorithm: dense vertical column and dense strip (centres of stacked circles)
const gaColumn = [[1.698, 22.38], [1.701, 21.0], [1.707, 19.6], [1.716, 18.23]];
const gaStrip = [[1.665, 0.38], [1.8, 0.35], [2.4, 0.32], [2.9, 0.3], [3.08, 0.29]];
// Genetic algorithm: separate circles
const gaPoints = [
  1.719,17.62, 3.12,0.3, 3.15,0.29, 3.18,0.3, 3.21,0.29, 3.25,0.3, 3.27,0.29, 3.3,0.3, 3.33,0.29, 3.36,0.3,
  3.39,0.29, 3.41,0.3, 3.43,0.29, 3.46,0.3, 3.49,0.29, 3.53,0.3, 3.68,0.29, 3.72,0.3, 3.74,0.29, 3.86,0.3,
  3.92,0.29, 3.94,0.3, 3.97,0.29, 4.0,0.3, 4.02,0.29, 4.06,0.3, 4.08,0.29, 4.2,0.3, 4.29,0.29, 4.45,0.3,
];

function toPairs(flat: number[]): number[][] {
  const out: number[][] = [];
  for (let i = 0; i + 1 < flat.length; i += 2) out.push([flat[i], flat[i + 1]]);
  return out;
}

export default function App() {
  const ref = useRef<HTMLDivElement>(null);

  useEffect(() => {
    if (!ref.current) return;
    const chart = echarts.init(ref.current, undefined, { renderer: "svg" });
    const axisColor = "#4a4a4a";
    const labelStyle = { fontSize: 16, fontFamily: FONT, color: "#000" };
    const rich = {
      a: { fontSize: 16, fontFamily: FONT, color: "#000" },
      s: { fontSize: 11, fontFamily: FONT, color: "#000", padding: [10, 0, 0, 0] },
    };
    const xMin = xTickValues[0];
    const xMax = xTickValues[xTickValues.length - 1];
    const yMin = yTickValues[0];
    const yMax = yTickValues[yTickValues.length - 1];
    const common = {
      type: "value" as const,
      axisLine: { show: true, onZero: false, lineStyle: { color: axisColor, width: 1 } },
      axisTick: { show: true, inside: true, length: 5, lineStyle: { color: axisColor } },
    };

    chart.setOption({
      animation: false,
      backgroundColor: "#fff",
      grid: { left: 57, right: 10, top: 14, bottom: 35, containLabel: false },
      xAxis: [
        {
          ...common,
          position: "bottom",
          min: xMin,
          max: xMax,
          interval: 0.5,
          axisLabel: { ...labelStyle, margin: 4 },
          splitLine: { show: true, lineStyle: { color: "#b4b4b4", type: [1, 3], width: 1 } },
          name: "{a|Emittance ε}{s|x}{a| (nm−rad)}",
          nameLocation: "middle",
          nameGap: 8,
          nameTextStyle: { ...labelStyle, rich },
        },
        {
          ...common,
          position: "top",
          min: xMin,
          max: xMax,
          interval: 0.5,
          axisLabel: { show: false },
          splitLine: { show: false },
        },
      ],
      yAxis: [
        {
          ...common,
          position: "left",
          min: yMin,
          max: yMax,
          interval: 5,
          axisLabel: { ...labelStyle, margin: 5 },
          splitLine: { show: true, lineStyle: { color: "#b4b4b4", type: [1, 3], width: 1 } },
          name: "{a|β}{s|x}{a| (m)}",
          nameLocation: "middle",
          nameGap: 28,
          nameTextStyle: { ...labelStyle, rich },
        },
        {
          ...common,
          position: "right",
          min: yMin,
          max: yMax,
          interval: 5,
          axisLabel: { show: false },
          splitLine: { show: false },
        },
      ],
      series: [
        {
          name: seriesNames[0],
          type: "scatter",
          data: toPairs([
            ...inverseCloudUpper,
            ...inverseCloudLeftArm,
            ...inverseCloudMiddle,
            ...inverseCloudCore,
            ...inverseCloudLower,
          ]),
          symbol: "circle",
          symbolSize: 4,
          itemStyle: { color: "#ff0000" },
          silent: true,
          z: 2,
        },
        {
          name: seriesNames[0],
          type: "scatter",
          data: toPairs([...inverseTopBand, ...inverseSparse]),
          symbol: "circle",
          symbolSize: 3.5,
          itemStyle: { color: "#ff0000" },
          silent: true,
          z: 2,
        },
        {
          name: seriesNames[0],
          type: "line",
          data: inverseStripTop,
          symbol: "none",
          lineStyle: { width: 0, opacity: 0 },
          areaStyle: { color: "#ff0000", opacity: 1 },
          silent: true,
          z: 3,
        },
        {
          name: seriesNames[1],
          type: "line",
          data: gaStrip,
          symbol: "none",
          lineStyle: { color: "#0000ff", width: 7.5, cap: "round" },
          silent: true,
          z: 4,
        },
        {
          name: seriesNames[1],
          type: "line",
          data: gaColumn,
          symbol: "none",
          lineStyle: { color: "#0000ff", width: 6.5, cap: "round" },
          silent: true,
          z: 4,
        },
        {
          name: seriesNames[1],
          type: "scatter",
          data: toPairs(gaPoints),
          symbol: "circle",
          symbolSize: 6.5,
          itemStyle: { color: "rgba(0,0,0,0)", borderColor: "#0000ff", borderWidth: 1 },
          silent: true,
          z: 5,
        },
      ],
      graphic: [
        {
          type: "rect",
          shape: { x: 105.5, y: 253.5, width: 162, height: 47 },
          style: { fill: "#fff", stroke: "#3a3a3a", lineWidth: 1 },
          z: 100,
        },
        {
          type: "circle",
          shape: { cx: 125.5, cy: 266.5, r: 1.4 },
          style: { fill: "#ff0000" },
          z: 101,
        },
        {
          type: "circle",
          shape: { cx: 124.5, cy: 287.5, r: 3.2 },
          style: { fill: "none", stroke: "#0000ff", lineWidth: 1 },
          z: 101,
        },
        {
          type: "text",
          x: 140,
          y: 266.5,
          style: { text: seriesNames[0], fontSize: 15.5, fontFamily: FONT, fill: "#000", verticalAlign: "middle" },
          z: 101,
        },
        {
          type: "text",
          x: 140,
          y: 287.5,
          style: { text: seriesNames[1], fontSize: 15.5, fontFamily: FONT, fill: "#000", verticalAlign: "middle" },
          z: 101,
        },
      ],
    });

    return () => chart.dispose();
  }, []);

  return (
    <div
      ref={ref}
      style={{ position: "fixed", left: 0, top: 0, width: 500, height: 390, background: "#fff" }}
    />
  );
}
